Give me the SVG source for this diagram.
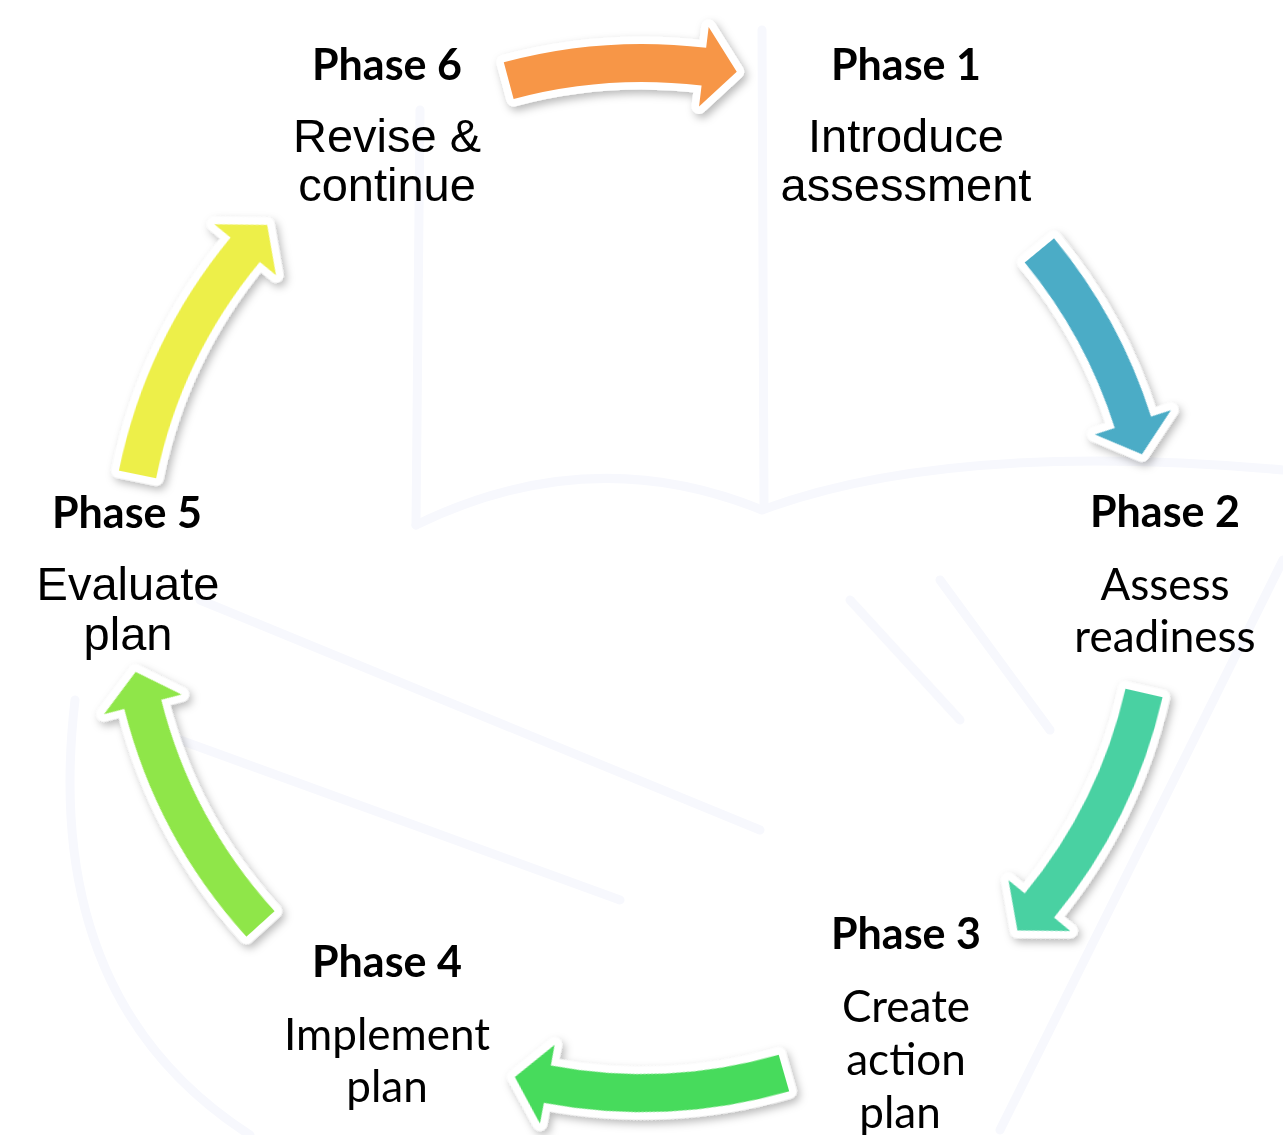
<svg xmlns="http://www.w3.org/2000/svg" xmlns:xlink="http://www.w3.org/1999/xlink" width="1283" height="1135" viewBox="0 0 1283 1135">
  <style>
    .bg { fill:none; stroke:#F7F8FD; stroke-width:9; stroke-linecap:round; stroke-linejoin:round; }
    .arrow { stroke:#FFFFFF; stroke-width:15; stroke-linejoin:round; paint-order:stroke; }
    .ph { font-family:Lato, "Noto Sans", sans-serif; font-weight:700; font-size:43px; text-anchor:middle; fill:#000; }
    .ar { font-family:"Liberation Sans", Arial, sans-serif; font-size:47px; text-anchor:middle; fill:#000; }
    .ca { font-family:Lato, "Noto Sans", sans-serif; font-size:44px; text-anchor:middle; fill:#000; }
  </style>
  <defs>
    <filter id="sh" x="-10%" y="-10%" width="120%" height="120%">
      <feDropShadow dx="3" dy="4" stdDeviation="4" flood-color="#000" flood-opacity="0.28"/>
    </filter>
    <path id="arrA" class="arrow" d="M534,0 A534,534 0 0 1 495.47,199.18 L514.95,207.01 L464.44,222.53 L440.72,177.17 L460.21,185.00 A496,496 0 0 0 496,0 Z"/>
    <path id="arrB" class="arrow" d="M534,0 A534,534 0 0 1 477.48,239.10 L496.26,248.51 L444.65,259.83 L424.73,212.69 L443.50,222.09 A496,496 0 0 0 496,0 Z"/>
    <path id="arrC" class="arrow" d="M534,0 A534,534 0 0 1 471.50,250.70 L490.04,260.56 L438.17,270.62 L419.40,223.00 L437.94,232.86 A496,496 0 0 0 496,0 Z"/>
  </defs>
  <rect width="1283" height="1135" fill="#FFFFFF"/>

  <g id="background">
    <path class="bg" d="M762,30 L764,505"/>
    <path class="bg" d="M420,110 L416,525"/>
    <path class="bg" d="M416,525 Q590,440 762,510 Q950,440 1283,470"/>
    <path class="bg" d="M200,600 L760,830"/>
    <path class="bg" d="M180,740 L620,900"/>
    <path class="bg" d="M75,700 Q40,1000 250,1135"/>
    <path class="bg" d="M1000,1130 L1283,560"/>
    <path class="bg" d="M850,600 L960,720"/>
    <path class="bg" d="M940,580 L1050,730"/>
  </g>

  <g id="connectors" filter="url(#sh)">
    <use id="arrow-6-1" xlink:href="#arrA" transform="translate(642 578) rotate(255)" fill="#F79646"/>
    <use id="arrow-1-2" xlink:href="#arrA" transform="translate(642 578) rotate(320.5)" fill="#4BACC6"/>
    <use id="arrow-2-3" xlink:href="#arrB" transform="translate(642 578) rotate(12.9)" fill="#4AD1A2"/>
    <use id="arrow-3-4" xlink:href="#arrB" transform="translate(642 578) rotate(74)" fill="#47DB5B"/>
    <use id="arrow-4-5" xlink:href="#arrC" transform="translate(642 578) rotate(137.8)" fill="#8FE648"/>
    <use id="arrow-5-6" xlink:href="#arrC" transform="translate(642 578) rotate(191.6)" fill="#EDEF4A"/>
  </g>

  <g id="phase1">
    <text class="ph" x="906" y="80">Phase 1</text>
    <text class="ar" x="906" y="152">Introduce</text>
    <text class="ar" x="906" y="201">assessment</text>
  </g>
  <g id="phase2">
    <text class="ph" x="1165" y="527">Phase 2</text>
    <text class="ca" x="1165" y="600">Assess</text>
    <text class="ca" x="1165" y="652">readiness</text>
  </g>
  <g id="phase3">
    <text class="ph" x="906" y="949">Phase 3</text>
    <text class="ca" x="906" y="1022">Create</text>
    <text class="ca" x="906" y="1075">action</text>
    <text class="ca" x="900" y="1128">plan</text>
  </g>
  <g id="phase4">
    <text class="ph" x="387" y="977">Phase 4</text>
    <text class="ca" x="387" y="1050">Implement</text>
    <text class="ca" x="387" y="1102">plan</text>
  </g>
  <g id="phase5">
    <text class="ph" x="127" y="528">Phase 5</text>
    <text class="ar" x="128" y="600">Evaluate</text>
    <text class="ar" x="128" y="650">plan</text>
  </g>
  <g id="phase6">
    <text class="ph" x="387" y="80">Phase 6</text>
    <text class="ar" x="387" y="152">Revise &amp;</text>
    <text class="ar" x="387" y="201">continue</text>
  </g>
</svg>
